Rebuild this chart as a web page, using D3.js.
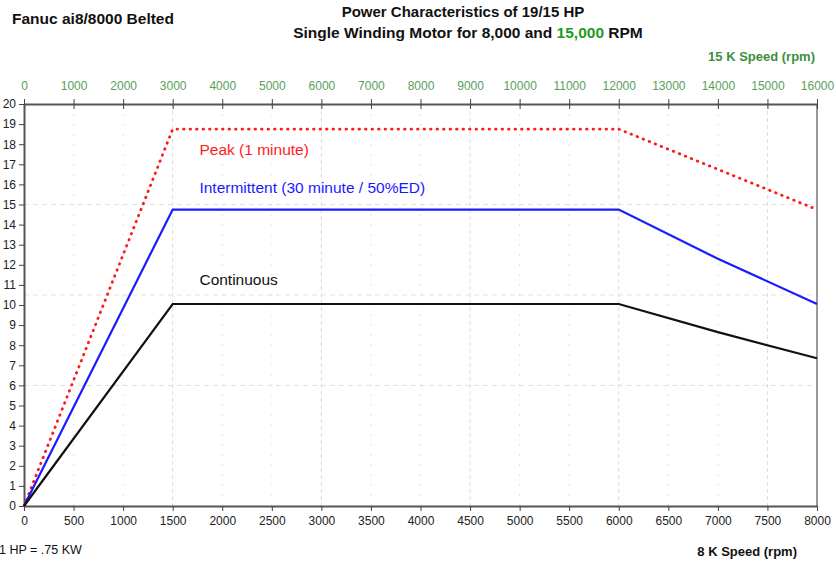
<!DOCTYPE html>
<html>
<head>
<meta charset="utf-8">
<script src="https://cdn.jsdelivr.net/npm/d3@7"></script>
<style>
  body { margin: 0; background: #fff; }
  text { font-family: "Liberation Sans", Arial, sans-serif; }
</style>
</head>
<body>
<div id="chart"></div>
<script>
// data
var speed8k = [0, 1500, 6000, 7000, 8000];
var peak = [0, 18.75, 18.75, 16.75, 14.75];
var intermittent = [0, 14.75, 14.75, 12.3, 10.05];
var continuous = [0, 10.05, 10.05, 8.65, 7.35];

var bottomTicks = d3.range(0, 8001, 500);
var topTicks = d3.range(0, 16001, 1000);
var leftTicks = d3.range(0, 21, 1);
var hGrid = [6, 10.5, 15];

var series = [
  { name: "Peak (1 minute)", values: peak, color: "#ff1a1a", dash: "0.5,6", width: 2.8, cap: "round", lx: 1770, ly: 17.45 },
  { name: "Intermittent (30 minute / 50%ED)", values: intermittent, color: "#1a1aff", dash: null, width: 2.2, cap: "butt", lx: 1770, ly: 15.55 },
  { name: "Continuous", values: continuous, color: "#111", dash: null, width: 2.2, cap: "butt", lx: 1770, ly: 11.0 }
];

var W = 836, H = 563;
var margin = { top: 104, right: 19, bottom: 57, left: 24 };
var width = W - margin.left - margin.right,
    height = H - margin.top - margin.bottom;

var svg = d3.select("#chart").append("svg")
            .attr("width", W)
            .attr("height", H);

var g = svg.append("g").attr("transform", "translate(" + margin.left + "," + margin.top + ")");

var x = d3.scaleLinear().domain([0, 8000]).range([0, width]);
var x2 = d3.scaleLinear().domain([0, 16000]).range([0, width]);
var y = d3.scaleLinear().domain([0, 20]).range([height, 0]);

// grid
g.selectAll(".vgrid")
 .data(bottomTicks.slice(1, -1))
 .enter().append("line")
 .attr("x1", d => x(d)).attr("x2", d => x(d))
 .attr("y1", 0).attr("y2", height)
 .attr("stroke", d => d % 1500 === 0 ? "#dcdcdc" : "#e4e4e4")
 .attr("stroke-dasharray", d => d % 1500 === 0 ? "4,3" : "2,8");

g.selectAll(".hgrid")
 .data(hGrid)
 .enter().append("line")
 .attr("x1", 0).attr("x2", width)
 .attr("y1", d => y(d)).attr("y2", d => y(d))
 .attr("stroke", "#e0e0e0")
 .attr("stroke-dasharray", "5,4");

// right border
g.append("line")
 .attr("x1", width).attr("x2", width)
 .attr("y1", 0).attr("y2", height)
 .attr("stroke", "#777").attr("stroke-width", 1.5);

// axes
var axBottom = g.append("g")
 .attr("transform", "translate(0," + height + ")")
 .call(d3.axisBottom(x).tickValues(bottomTicks).tickFormat(d3.format("d")).tickSize(5).tickPadding(5).tickSizeOuter(0));

var axTop = g.append("g")
 .call(d3.axisTop(x2).tickValues(topTicks).tickFormat(d3.format("d")).tickSize(5).tickPadding(9).tickSizeOuter(0));
axTop.selectAll(".tick line").attr("y2", 5).attr("y1", -5);

var axLeft = g.append("g")
 .call(d3.axisLeft(y).tickValues(leftTicks).tickSize(5).tickPadding(3).tickSizeOuter(0));

[axBottom, axTop, axLeft].forEach(function(a) {
  a.select(".domain").attr("stroke", "#555").attr("stroke-width", 2);
  a.selectAll(".tick line").attr("stroke", "#444");
  a.selectAll(".tick text").attr("font-size", 12).attr("font-family", "Liberation Sans, Arial, sans-serif");
});
axBottom.selectAll(".tick text").attr("fill", "#222");
axLeft.selectAll(".tick text").attr("fill", "#222");
axTop.selectAll(".tick text").attr("fill", "#5a9e5a");

// lines
var line = d3.line()
  .x((d, i) => x(speed8k[i]))
  .y(d => y(d));

series.forEach(function(s) {
  g.append("path")
   .datum(s.values)
   .attr("fill", "none")
   .attr("stroke", s.color)
   .attr("stroke-width", s.width)
   .attr("stroke-linecap", s.cap)
   .attr("stroke-dasharray", s.dash)
   .attr("d", line);

  g.append("text")
   .attr("x", x(s.lx))
   .attr("y", y(s.ly))
   .attr("fill", s.color)
   .attr("font-size", 15.5)
   .text(s.name);
});

// titles and notes
svg.append("text")
 .attr("x", 12).attr("y", 24)
 .attr("font-size", 15.5).attr("font-weight", "bold").attr("fill", "#111")
 .text("Fanuc ai8/8000 Belted");

svg.append("text")
 .attr("x", 463).attr("y", 17)
 .attr("text-anchor", "middle")
 .attr("font-size", 15).attr("font-weight", "bold").attr("fill", "#111")
 .text("Power Characteristics of 19/15 HP");

var t2 = svg.append("text")
 .attr("x", 468).attr("y", 38)
 .attr("text-anchor", "middle")
 .attr("font-size", 15.5).attr("font-weight", "bold").attr("fill", "#111");
t2.append("tspan").text("Single Winding Motor for 8,000 and ");
t2.append("tspan").attr("fill", "#1e9a1e").text("15,000");
t2.append("tspan").text(" RPM");

svg.append("text")
 .attr("x", 815).attr("y", 61)
 .attr("text-anchor", "end")
 .attr("font-size", 13).attr("font-weight", "bold").attr("fill", "#3d8f3d")
 .text("15 K Speed (rpm)");

svg.append("text")
 .attr("x", 797).attr("y", 556)
 .attr("text-anchor", "end")
 .attr("font-size", 13).attr("font-weight", "bold").attr("fill", "#111")
 .text("8 K Speed (rpm)");

svg.append("text")
 .attr("x", -1).attr("y", 554)
 .attr("font-size", 12.5).attr("fill", "#111")
 .text("1 HP = .75 KW");
</script>
</body>
</html>
